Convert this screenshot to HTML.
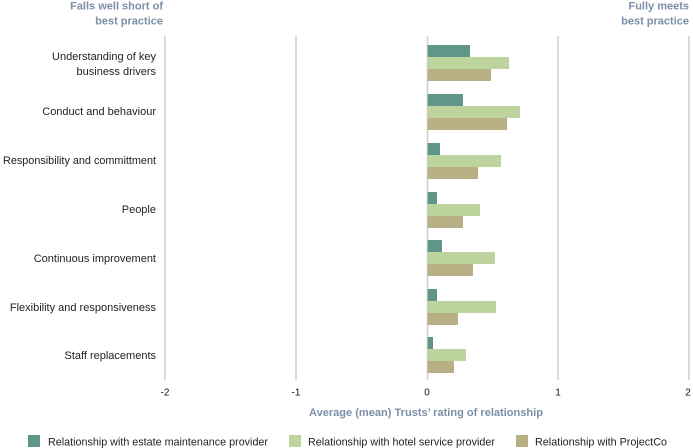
<!DOCTYPE html>
<html><head><meta charset="utf-8"><style>
html,body{margin:0;padding:0;background:#fff;}
svg{display:block;}
text{font-family:"Liberation Sans",Arial,sans-serif;}
</style></head><body>
<svg width="693" height="448" viewBox="0 0 693 448" xmlns="http://www.w3.org/2000/svg">
<g fill="#7b8fa8" font-weight="bold" font-size="11">
<text x="163" y="9.5" text-anchor="end">Falls well short of</text>
<text x="163" y="24.5" text-anchor="end">best practice</text>
<text x="689" y="9.5" text-anchor="end">Fully meets</text>
<text x="689" y="24.5" text-anchor="end">best practice</text>
<text x="426" y="416" text-anchor="middle" textLength="234" lengthAdjust="spacingAndGlyphs">Average (mean) Trusts’ rating of relationship</text>
</g>
<g stroke="#d2d2d2" stroke-width="1.6">
<line x1="165" y1="36" x2="165" y2="380"/>
<line x1="296" y1="36" x2="296" y2="380"/>
<line x1="558" y1="36" x2="558" y2="380"/>
<line x1="689" y1="36" x2="689" y2="380"/>
<line x1="427.5" y1="36" x2="427.5" y2="380"/>
</g>
<g>
<rect x="427" y="45" width="43" height="12" fill="#5f9689"/>
<rect x="427" y="57" width="82" height="12" fill="#bdd49e"/>
<rect x="427" y="69" width="64" height="12" fill="#b9af84"/>

<rect x="427" y="94" width="36" height="12" fill="#5f9689"/>
<rect x="427" y="106" width="93" height="12" fill="#bdd49e"/>
<rect x="427" y="118" width="80" height="12" fill="#b9af84"/>

<rect x="427" y="143" width="13" height="12" fill="#5f9689"/>
<rect x="427" y="155" width="74" height="12" fill="#bdd49e"/>
<rect x="427" y="167" width="51" height="12" fill="#b9af84"/>

<rect x="427" y="192" width="10" height="12" fill="#5f9689"/>
<rect x="427" y="204" width="53" height="12" fill="#bdd49e"/>
<rect x="427" y="216" width="36" height="12" fill="#b9af84"/>

<rect x="427" y="240" width="15" height="12" fill="#5f9689"/>
<rect x="427" y="252" width="68" height="12" fill="#bdd49e"/>
<rect x="427" y="264" width="46" height="12" fill="#b9af84"/>

<rect x="427" y="289" width="10" height="12" fill="#5f9689"/>
<rect x="427" y="301" width="69" height="12" fill="#bdd49e"/>
<rect x="427" y="313" width="31" height="12" fill="#b9af84"/>

<rect x="427" y="337" width="6" height="12" fill="#5f9689"/>
<rect x="427" y="349" width="39" height="12" fill="#bdd49e"/>
<rect x="427" y="361" width="27" height="12" fill="#b9af84"/>
</g>
<line x1="427.5" y1="36" x2="427.5" y2="380" stroke="#cfcfcf" stroke-width="1" opacity="0.6"/>
<g fill="#222" font-size="11" text-anchor="end">
<text x="156" y="60">Understanding of key</text>
<text x="156" y="75">business drivers</text>
<text x="156" y="115">Conduct and behaviour</text>
<text x="156" y="164" textLength="153" lengthAdjust="spacingAndGlyphs">Responsibility and committment</text>
<text x="156" y="213">People</text>
<text x="156" y="262">Continuous improvement</text>
<text x="156" y="311">Flexibility and responsiveness</text>
<text x="156" y="359">Staff replacements</text>
</g>
<g fill="#111" font-size="10" text-anchor="middle">
<text x="165" y="395.5">-2</text>
<text x="296" y="395.5">-1</text>
<text x="427" y="395.5">0</text>
<text x="558" y="395.5">1</text>
<text x="688" y="395.5">2</text>
</g>
<g font-size="11" fill="#222">
<rect x="28" y="435" width="12" height="12" fill="#5f9689"/>
<text x="48" y="445.5" textLength="220" lengthAdjust="spacingAndGlyphs">Relationship with estate maintenance provider</text>
<rect x="289" y="435" width="12" height="12" fill="#bdd49e"/>
<text x="308" y="445.5" textLength="187" lengthAdjust="spacingAndGlyphs">Relationship with hotel service provider</text>
<rect x="516" y="435" width="12" height="12" fill="#b9af84"/>
<text x="535" y="445.5" textLength="132" lengthAdjust="spacingAndGlyphs">Relationship with ProjectCo</text>
</g>
</svg>
</body></html>
